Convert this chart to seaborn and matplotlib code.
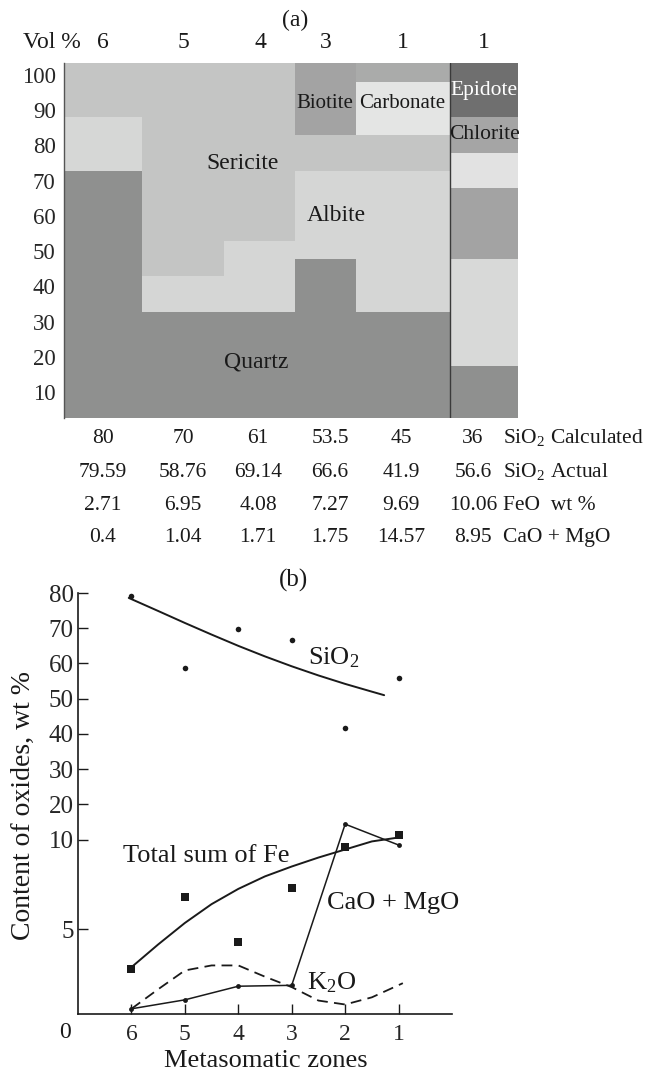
import numpy as np
import matplotlib.pyplot as plt
import seaborn as sns

# ---------- (a) mineral columns ----------
col_zones = ["6", "5", "4", "3", "1", "1"]
# layer fills, bottom -> top
col_layers = [
    ["quartz", "pale", "sericite"],
    ["quartz", "albite", "sericite"],
    ["quartz", "albite", "sericite"],
    ["quartz", "albite", "sericite", "biotite"],
    ["quartz", "albite", "sericite", "carbonate", "grey"],
    ["quartz", "light", "mid", "pale2", "chlorite", "epidote"],
]
# upper bound of each layer (vol %, as drawn on the chart)
col_tops = [
    [72.7, 88.0, 103.4],
    [32.7, 42.9, 103.4],
    [32.7, 52.9, 103.4],
    [47.8, 72.7, 82.9, 103.4],
    [32.7, 72.7, 82.9, 98.0, 103.4],
    [17.4, 47.8, 67.9, 77.8, 88.0, 103.4],
]

# table under (a)
sio2_calc = [80, 70, 61, 53.5, 45, 36]
sio2_act = [79.59, 58.76, 69.14, 66.6, 41.9, 56.6]
feo_wt = [2.71, 6.95, 4.08, 7.27, 9.69, 10.06]
cao_mgo = [0.4, 1.04, 1.71, 1.75, 14.57, 8.95]
row_names = ["SiO$_2$ Calculated", "SiO$_2$ Actual", "FeO  wt %", "CaO + MgO"]

# ---------- (b) oxides vs zones ----------
zones = [6, 5, 4, 3, 2, 1]
sio2_pts = [79.2, 58.6, 69.7, 66.6, 41.7, 56.0]
fe_pts = [2.8, 6.8, 4.3, 7.3, 9.6, 11.2]
cao_line = [0.56, 1.06, 1.82, 1.87, 14.4, 9.7]

sio2_fit_x = [6.05, 5.5, 5, 4.5, 4, 3.5, 3, 2.5, 2, 1.5, 1.27]
sio2_fit_y = [78.6, 74.9, 71.5, 68.2, 65.0, 62.0, 59.2, 56.6, 54.2, 52.0, 51.0]
fe_fit_x = [6, 5.5, 5, 4.5, 4, 3.5, 3, 2.5, 2, 1.5, 1]
fe_fit_y = [2.88, 4.15, 5.35, 6.4, 7.25, 7.95, 8.5, 9.0, 9.45, 9.9, 10.6]
k2o_x = [6, 5.5, 5, 4.5, 4, 3.5, 3, 2.5, 2, 1.5, 0.92]
k2o_y = [0.56, 1.65, 2.7, 2.98, 2.98, 2.35, 1.77, 1.02, 0.8, 1.2, 1.99]

# ---------- style ----------
sns.set_style("white")
plt.rcParams["font.family"] = ["Liberation Serif", "DejaVu Serif"]
plt.rcParams["mathtext.fontset"] = "custom"
plt.rcParams["mathtext.rm"] = "Liberation Serif"
plt.rcParams["mathtext.it"] = "Liberation Serif:italic"
plt.rcParams["text.color"] = "#1a1a1a"

colors = {
    "quartz": "#8f908f", "sericite": "#c4c5c4", "albite": "#d5d6d5",
    "pale": "#d6d7d6", "biotite": "#a3a3a3", "carbonate": "#e4e5e4",
    "grey": "#aaabaa", "light": "#d8d9d8", "mid": "#a3a3a3",
    "pale2": "#e2e2e2", "chlorite": "#a5a5a5", "epidote": "#6f6f6f",
}

W, H = 657, 1071
fig = plt.figure(figsize=(W / 100, H / 100), dpi=100)


def fx(x):
    return x / W


def fy(y):
    return 1 - y / H


# ---------- panel (a) ----------
col_edges = [0, 78, 160, 231, 292, 386, 454]
ax1 = fig.add_axes([fx(64), fy(418), (518 - 64) / W, (418 - 63) / H])
for i, (layers, tops) in enumerate(zip(col_layers, col_tops)):
    bottoms = [0] + tops[:-1]
    for lay, b, t in zip(layers, bottoms, tops):
        ax1.bar(col_edges[i], t - b, bottom=b, width=col_edges[i + 1] - col_edges[i],
                align="edge", color=colors[lay], linewidth=0)
ax1.axvline(col_edges[5], color="#3a3a3a", lw=1)
ax1.set_xlim(col_edges[0], col_edges[-1])
ax1.set_ylim(2.6, 103.4)
ax1.set_xticks([])
ax1.set_yticks(range(10, 101, 10))
ax1.tick_params(axis="y", length=0, pad=6, labelsize=16.5)
for s in ["top", "right", "bottom"]:
    ax1.spines[s].set_visible(False)
ax1.spines["left"].set_color("#555555")
ax1.spines["left"].set_linewidth(1)

lab_kw = dict(ha="center", va="center")
ax1.text(179, 75.0, "Sericite", fontsize=17, **lab_kw)
ax1.text(272, 60.2, "Albite", fontsize=17, **lab_kw)
ax1.text(192, 18.5, "Quartz", fontsize=17, **lab_kw)
ax1.text(261, 91.8, "Biotite", fontsize=15, **lab_kw)
ax1.text(338, 91.8, "Carbonate", fontsize=15, **lab_kw)
ax1.text(420, 95.7, "Epidote", fontsize=15.5, color="white", **lab_kw)
ax1.text(420, 83.0, "Chlorite", fontsize=15.5, **lab_kw)

# header
fig.text(fx(295), fy(20), "(a)", fontsize=17, ha="center", va="center")
fig.text(fx(23), fy(43), "Vol %", fontsize=17, ha="left", va="center")
col_centers = [103, 183, 260, 326, 403, 484]
for cx, z in zip(col_centers, col_zones):
    fig.text(fx(cx), fy(43), z, fontsize=17, ha="center", va="center")

# table
tab_x = [103, 183, 258, 330, 401, 473]
tab_y = [443, 477, 510, 542]
for row, ry, name in zip([sio2_calc, sio2_act, feo_wt, cao_mgo], tab_y, row_names):
    for cx, v in zip(tab_x, row):
        fig.text(fx(cx), fy(ry), f"{v:g}", fontsize=15.5, ha="center", va="baseline")
    fig.text(fx(503), fy(ry), name, fontsize=15.5, ha="left", va="baseline")

# ---------- panel (b) ----------
def fwd(y):
    y = np.asarray(y, dtype=float)
    return np.where(y <= 10, y, 10 + (y - 10) * 0.1966)


def inv(t):
    t = np.asarray(t, dtype=float)
    return np.where(t <= 10, t, 10 + (t - 10) / 0.1966)


ax2 = fig.add_axes([fx(78), fy(1014), (452 - 78) / W, (1014 - 593) / H])
ax2.set_yscale("function", functions=(fwd, inv))

sns.lineplot(x=sio2_fit_x, y=sio2_fit_y, ax=ax2, color="#1a1a1a", lw=1.4)
sns.lineplot(x=fe_fit_x, y=fe_fit_y, ax=ax2, color="#1a1a1a", lw=1.4)
sns.lineplot(x=zones, y=cao_line, ax=ax2, color="#1a1a1a", lw=1.1,
             marker="o", markersize=3.5, markeredgewidth=0)
ax2.plot(k2o_x, k2o_y, color="#1a1a1a", lw=1.3, dashes=(6, 3.5))
sns.scatterplot(x=zones, y=sio2_pts, ax=ax2, color="#1a1a1a", marker="o", s=16, linewidth=0)
sns.scatterplot(x=zones, y=fe_pts, ax=ax2, color="#1a1a1a", marker="s", s=32, linewidth=0)

ax2.set_xlim(7, 0)
ax2.set_ylim(0.27, 80)
ax2.set_xticks(zones)
ax2.set_yticks([5, 10, 20, 30, 40, 50, 60, 70, 80])
ax2.set_yticklabels(["5", "10", "20", "30", "40", "50", "60", "70", "80"])
ax2.minorticks_off()
ax2.tick_params(axis="both", direction="in", length=7, width=1, color="#1a1a1a", labelsize=18)
ax2.tick_params(axis="y", pad=3, left=True)
ax2.tick_params(axis="x", pad=7, bottom=True, labelsize=17)
for s in ["top", "right"]:
    ax2.spines[s].set_visible(False)
for s in ["left", "bottom"]:
    ax2.spines[s].set_color("#1a1a1a")
    ax2.spines[s].set_linewidth(1.2)
ax2.set_xlabel("")
ax2.set_ylabel("")

ax2.text(2.21, 61.5, "SiO$_2$", fontsize=19, ha="center", va="center")
ax2.text(4.6, 9.1, "Total sum of Fe", fontsize=19, ha="center", va="center")
ax2.text(1.10, 6.44, "CaO + MgO", fontsize=19, ha="center", va="center")
ax2.text(2.25, 2.03, "K$_2$O", fontsize=19, ha="center", va="center")

fig.text(fx(293), fy(580), "(b)", fontsize=18, ha="center", va="center")
fig.text(fx(65), fy(1033), "0", fontsize=17, ha="center", va="center")
fig.text(fx(266), fy(1061), "Metasomatic zones", fontsize=19, ha="center", va="center")
fig.text(fx(23), fy(805), "Content of oxides, wt %", fontsize=20, rotation=90,
         ha="center", va="center")

fig.savefig("out.png", dpi=100)
